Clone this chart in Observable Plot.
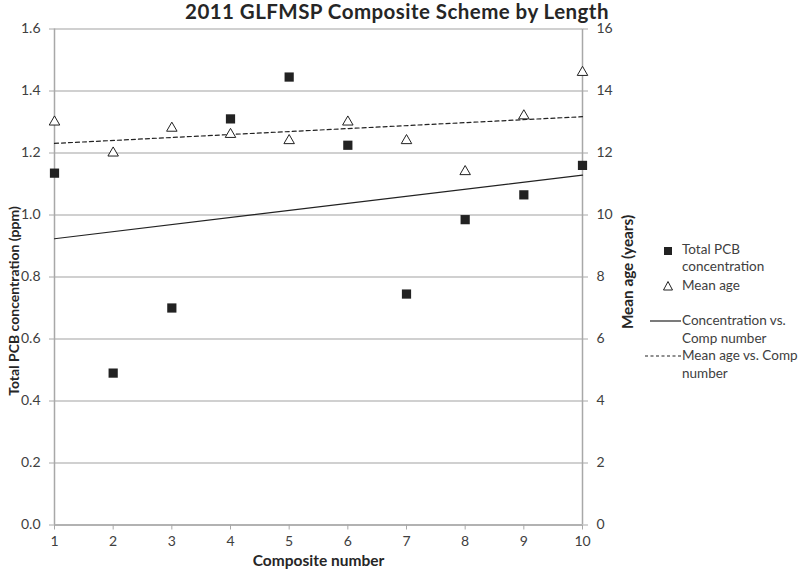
<!DOCTYPE html>
<html>
<head>
<meta charset="utf-8">
<script src="https://cdn.jsdelivr.net/npm/d3@7"></script>
<script src="https://cdn.jsdelivr.net/npm/@observablehq/plot@0.6"></script>
<style>
  html, body { margin: 0; padding: 0; background: #fff; }
  #wrap { position: relative; width: 800px; height: 576px; font-family: Lato, "Open Sans", sans-serif; color: #404040; }
  #title { position: absolute; left: 0; width: 794px; top: 1px; text-align: center; font-weight: bold; font-size: 20.5px; letter-spacing: 0.45px; color: #262626; line-height: 20px; }
  #legend { position: absolute; left: 640px; top: 240px; font-size: 13.5px; color: #404040; }
  .li { position: absolute; white-space: nowrap; line-height: 17.5px; }
  .sym { position: absolute; }
</style>
</head>
<body>
<div id="wrap">
  <div id="chart"></div>
  <div id="title">2011 GLFMSP Composite Scheme by Length</div>
  <div id="legend"></div>
</div>
<script>
// ---- data ----
const composite = [1, 2, 3, 4, 5, 6, 7, 8, 9, 10];
const pcbConcentration = [1.135, 0.49, 0.70, 1.31, 1.445, 1.225, 0.745, 0.985, 1.065, 1.16];
const meanAge = [13.0, 12.0, 12.8, 12.6, 12.4, 13.0, 12.4, 11.4, 13.2, 14.6];
const leftTicks = [0, 0.2, 0.4, 0.6, 0.8, 1.0, 1.2, 1.4, 1.6];
const rightTicks = [0, 2, 4, 6, 8, 10, 12, 14, 16];
const ageScale = 10; // right axis max 16 vs left axis max 1.6

const titleText = "2011 GLFMSP Composite Scheme by Length";
const xLabel = "Composite number";
const yLeftLabel = "Total PCB concentration (ppm)";
const yRightLabel = "Mean age (years)";
const legendItems = [
  {type: "square", lines: ["Total PCB", "concentration"]},
  {type: "triangle", lines: ["Mean age"]},
  {type: "solid", lines: ["Concentration vs.", "Comp number"]},
  {type: "dashed", lines: ["Mean age vs. Comp", "number"]}
];

const data = composite.map((c, i) => ({c, pcb: pcbConcentration[i], age: meanAge[i]}));

const gridColor = "#c0c0c0";
const axisColor = "#a8a8a8";
const ink = "#222222";

const chart = Plot.plot({
  width: 800,
  height: 576,
  marginTop: 28.5,
  marginBottom: 51.5,
  marginLeft: 54,
  marginRight: 218,
  x: {domain: [1, 10]},
  y: {domain: [0, 1.6]},
  style: {fontFamily: "Lato, 'Open Sans', sans-serif", fontSize: "14px", color: "#404040", background: "white"},
  marks: [
    Plot.gridY(leftTicks, {stroke: gridColor, strokeOpacity: 1, strokeWidth: 1.3}),
    Plot.ruleX([1, 10], {stroke: axisColor, strokeWidth: 1.5}),
    Plot.ruleY([0], {stroke: axisColor, strokeWidth: 1.5}),
    Plot.axisY({ticks: leftTicks, tickFormat: d => d.toFixed(1), tickSize: 5, tickPadding: 9, stroke: axisColor, label: null, fontSize: 14}),
    Plot.axisY({anchor: "right", ticks: rightTicks.map(t => t / ageScale), tickFormat: d => String(Math.round(d * ageScale)), tickSize: 5, tickPadding: 9, stroke: axisColor, label: null, fontSize: 14}),
    Plot.axisX({ticks: composite, tickSize: 5, tickPadding: 6, stroke: axisColor, label: null, fontSize: 14}),
    Plot.linearRegressionY(data, {x: "c", y: "pcb", ci: 0, stroke: ink, strokeWidth: 1.2}),
    Plot.linearRegressionY(data, {x: "c", y: d => d.age / ageScale, ci: 0, stroke: ink, strokeWidth: 1.2, strokeDasharray: "4,3"}),
    Plot.dot(data, {x: "c", y: "pcb", symbol: "square", fill: ink, stroke: "none", r: 5.2}),
    Plot.dot(data, {x: "c", y: d => d.age / ageScale, symbol: "triangle", fill: "white", stroke: ink, strokeWidth: 1, r: 3.9}),
    Plot.text([xLabel], {frameAnchor: "bottom", dy: 41, fontWeight: "bold", fontSize: 15.5, fill: "#262626", textAnchor: "middle"}),
    Plot.text([yLeftLabel], {frameAnchor: "left", dx: -40, dy: 24, rotate: -90, fontWeight: "bold", fontSize: 14, fill: "#262626", textAnchor: "middle"}),
    Plot.text([yRightLabel], {frameAnchor: "right", dx: 46, dy: -5, rotate: -90, fontWeight: "bold", fontSize: 15.3, fill: "#262626", textAnchor: "middle"})
  ]
});
document.getElementById("chart").appendChild(chart);

// ---- legend (HTML overlay) ----
const legend = document.getElementById("legend");
const legendLayout = [
  {symY: 10.5, textY: [10, 27]},
  {symY: 46, textY: [46]},
  {symY: 81, textY: [81, 99]},
  {symY: 116, textY: [116, 134]}
];
legendItems.forEach((item, i) => {
  const L = legendLayout[i];
  const ns = "http://www.w3.org/2000/svg";
  const svg = document.createElementNS(ns, "svg");
  svg.setAttribute("width", 40); svg.setAttribute("height", 14);
  svg.setAttribute("class", "sym");
  svg.style.left = "4px"; svg.style.top = (L.symY - 7) + "px";
  let el;
  if (item.type === "square") {
    el = document.createElementNS(ns, "rect");
    el.setAttribute("x", 20); el.setAttribute("y", 3); el.setAttribute("width", 8); el.setAttribute("height", 8); el.setAttribute("fill", ink);
  } else if (item.type === "triangle") {
    el = document.createElementNS(ns, "path");
    el.setAttribute("d", "M24,2.5 L28.5,11 L19.5,11 Z"); el.setAttribute("fill", "white"); el.setAttribute("stroke", ink);
  } else {
    el = document.createElementNS(ns, "line");
    el.setAttribute("x1", item.type === "solid" ? 6 : 1); el.setAttribute("x2", 37); el.setAttribute("y1", 7); el.setAttribute("y2", 7);
    el.setAttribute("stroke", ink); el.setAttribute("stroke-width", 1.2);
    if (item.type === "dashed") el.setAttribute("stroke-dasharray", "3,2.5");
  }
  svg.appendChild(el);
  legend.appendChild(svg);
  item.lines.forEach((t, j) => {
    const d = document.createElement("div");
    d.className = "li";
    d.textContent = t;
    d.style.left = "42px";
    d.style.top = (L.textY[j] - 8.75) + "px";
    legend.appendChild(d);
  });
});
</script>
</body>
</html>
